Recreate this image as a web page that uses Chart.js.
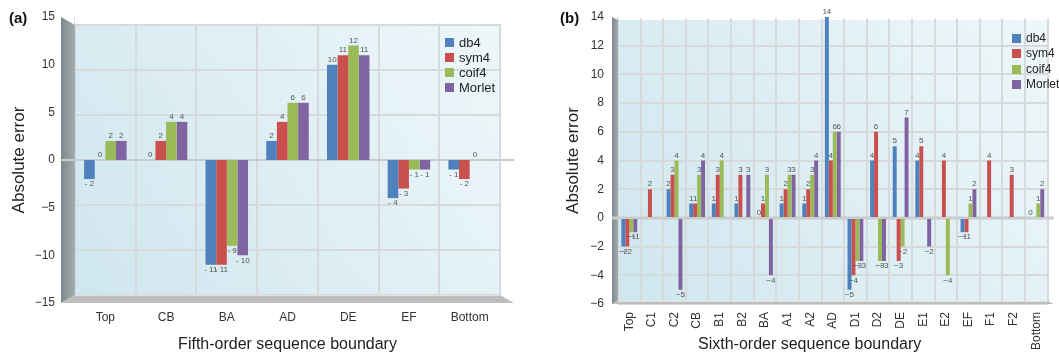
<!DOCTYPE html>
<html>
<head>
<meta charset="utf-8">
<script src="https://cdn.jsdelivr.net/npm/chart.js@4.4.1/dist/chart.umd.min.js"></script>
<style>
  body { margin: 0; background: #fff; font-family: Arial, "Liberation Sans", sans-serif; }
  #wrap { position: relative; width: 1059px; height: 354px; overflow: hidden; }
  .panel { position: absolute; top: 0; height: 354px; }
  .panel canvas { position: absolute; left: 0; top: 0; }
  .tag { position: absolute; font-weight: bold; font-size: 15px; color: #111; }
  .legend { position: absolute; color: #222; }
  .legend div { display: flex; align-items: center; white-space: nowrap; }
  .legend span.sw { display: inline-block; width: 9px; height: 9px; margin-right: 5px; }
  .xtitle { position: absolute; font-size: 16px; color: #222; white-space: nowrap; }
</style>
</head>
<body>
<div id="wrap">
  <div class="panel" style="left:0;width:530px">
    <canvas id="chartA" width="530" height="354"></canvas>
    <div class="tag" style="left:9px;top:9px">(a)</div>
    <div class="legend" id="legA" style="left:445px;top:35px;font-size:13px;line-height:15px"></div>
  </div>
  <div class="panel" style="left:530px;width:529px">
    <canvas id="chartB" width="529" height="354"></canvas>
    <div class="tag" style="left:30px;top:9px">(b)</div>
    <div class="legend" id="legB" style="left:482px;top:31px;font-size:12px;line-height:15.3px"></div>
    <div class="xtitle" id="xtB" style="left:168px;top:335px">Sixth-order sequence boundary</div>
  </div>
</div>
<script>
// ── Series ───────────────────────────────────────────
const SERIES = ["db4", "sym4", "coif4", "Morlet"];
const COLORS = ["#4f81bd", "#c9504d", "#9bbb59", "#8064a2"];

// (a) fifth-order boundaries
const CATS_A   = ["Top", "CB", "BA", "AD", "DE", "EF", "Bottom"];
const DB4_A    = [-2, 0, -11, 2, 10, -4, -1];
const SYM4_A   = [0, 2, -11, 4, 11, -3, -2];
const COIF4_A  = [2, 4, -9, 6, 12, -1, 0];
const MORLET_A = [2, 4, -10, 6, 11, -1, null];
const TICKS_A  = [-15, -10, -5, 0, 5, 10, 15];

// (b) sixth-order boundaries
const CATS_B   = ["Top", "C1", "C2", "CB", "B1", "B2", "BA", "A1", "A2", "AD", "D1", "D2", "DE", "E1", "E2", "EF", "F1", "F2", "Bottom"];
const DB4_B    = [-2, null, 2, 1, 1, 1, 0, 1, 1, 14, -5, 4, 5, 4, null, -1, null, null, 0];
const SYM4_B   = [-2, 2, 3, 1, 3, 3, 1, 2, 2, 4, -4, 6, -3, 5, 4, -1, 4, 3, null];
const COIF4_B  = [-1, null, 4, 3, 4, null, 3, 3, 3, 6, -3, -3, -2, null, -4, 1, null, null, 1];
const MORLET_B = [-1, null, -5, 4, null, 3, -4, 3, 4, 6, -3, -3, 7, -2, null, 2, null, null, 2];

const FONT = "Arial, 'Liberation Sans', sans-serif";
const minus = v => v < 0 ? "\u2212" + Math.abs(v) : String(v);

// ── Plugins ──────────────────────────────────────────
// fake 3D box: back wall, left wall, floor
const wall3d = {
  id: "wall3d",
  beforeDraw(chart, args, o) {
    const { ctx, chartArea: a } = chart;
    const g = ctx.createLinearGradient(a.left, a.bottom, a.right, a.top);
    g.addColorStop(0, "#cfe6ee");
    g.addColorStop(1, "#eef7fa");
    ctx.save();
    ctx.fillStyle = g;
    ctx.fillRect(a.left, a.top + o.inset, a.width, a.height - 2 * o.inset);
    ctx.restore();
  },
  beforeDatasetsDraw(chart, args, o) {
    const { ctx, chartArea: a } = chart;
    const d = o.depth, s = o.inset;
    ctx.save();
    // hide grid above the back wall
    ctx.fillStyle = "#fff";
    ctx.fillRect(a.left, a.top - 1, a.width + 2, s - 0.5);
    // left wall
    const lg = ctx.createLinearGradient(a.left - d, 0, a.left, 0);
    lg.addColorStop(0, "#7d898c");
    lg.addColorStop(1, "#a3adb0");
    ctx.fillStyle = lg;
    ctx.beginPath();
    ctx.moveTo(a.left - d, a.top);
    ctx.lineTo(a.left, a.top + s);
    ctx.lineTo(a.left, a.bottom - s);
    ctx.lineTo(a.left - d, a.bottom);
    ctx.closePath();
    ctx.fill();
    // floor
    ctx.fillStyle = "#bdbdbd";
    ctx.beginPath();
    ctx.moveTo(a.left - d, a.bottom);
    ctx.lineTo(a.left, a.bottom - s);
    ctx.lineTo(a.right, a.bottom - s);
    ctx.lineTo(a.right + d, a.bottom);
    ctx.closePath();
    ctx.fill();
    ctx.strokeStyle = "#e2e2e2";
    ctx.lineWidth = 1;
    ctx.beginPath();
    ctx.moveTo(a.left, a.bottom - s + 0.5);
    ctx.lineTo(a.right, a.bottom - s + 0.5);
    ctx.stroke();
    // front zero line
    const y0 = chart.scales.y.getPixelForValue(0);
    ctx.strokeStyle = "#c8cccd";
    ctx.lineWidth = o.zeroWidth;
    ctx.beginPath();
    ctx.moveTo(a.left - d, y0);
    ctx.lineTo(a.right + d, y0);
    ctx.stroke();
    ctx.restore();
  }
};

// small numbers at the bar ends
const valueLabels = {
  id: "valueLabels",
  afterDatasetsDraw(chart, args, o) {
    const ctx = chart.ctx;
    ctx.save();
    ctx.font = o.font;
    ctx.fillStyle = "#555";
    ctx.textAlign = "center";
    chart.data.datasets.forEach((ds, i) => {
      chart.getDatasetMeta(i).data.forEach((bar, j) => {
        const v = ds.data[j];
        if (v === null || v === undefined) return;
        ctx.textBaseline = v < 0 ? "top" : "bottom";
        ctx.fillText(o.format(v), bar.x, bar.y + (v < 0 ? 1 : -1));
      });
    });
    ctx.restore();
  }
};

function datasets(rows) {
  return rows.map((data, i) => ({
    label: SERIES[i],
    data,
    backgroundColor: COLORS[i],
    borderWidth: 0,
    categoryPercentage: 0.7,
    barPercentage: 1.0,
  }));
}

function legend(id) {
  document.getElementById(id).innerHTML = SERIES.map((s, i) =>
    `<div><span class="sw" style="background:${COLORS[i]}"></span>${s}</div>`).join("");
}

// ── Chart (a) ────────────────────────────────────────
new Chart(document.getElementById("chartA"), {
  type: "bar",
  data: { labels: CATS_A, datasets: datasets([DB4_A, SYM4_A, COIF4_A, MORLET_A]) },
  plugins: [wall3d, valueLabels],
  options: {
    responsive: false,
    animation: false,
    layout: { padding: { top: 17, right: 30, left: 0, bottom: 0 } },
    plugins: {
      legend: { display: false },
      tooltip: { enabled: false },
      wall3d: { depth: 14, inset: 8, zeroWidth: 2 },
      valueLabels: { font: `8px ${FONT}`, format: v => v < 0 ? "- " + Math.abs(v) : String(v) },
    },
    scales: {
      x: {
        grid: { color: "#d6dadb", lineWidth: 2, drawTicks: false },
        border: { display: false },
        ticks: { color: "#333", font: { family: FONT, size: 12 }, padding: 7 },
        title: { display: true, text: "Fifth-order sequence boundary", color: "#222",
                 font: { family: FONT, size: 16 }, padding: 0 },
        afterFit: s => { s.height = 51; },
      },
      y: {
        min: -15, max: 15,
        afterBuildTicks: ax => { ax.ticks = TICKS_A.map(v => ({ value: v })); },
        grid: { display: false, drawTicks: true, tickLength: 20 },
        border: { display: false },
        ticks: { color: "#333", font: { family: FONT, size: 12 }, padding: 0, callback: minus },
        title: { display: true, text: "Absolute error", color: "#222",
                 font: { family: FONT, size: 17 }, padding: { top: 9 } },
        afterFit: s => { s.width = 75; },
      },
      // back-wall grid (drawn slightly compressed for the 3D look)
      y2: {
        position: "right",
        min: -15.9, max: 15.9,
        afterBuildTicks: ax => { ax.ticks = TICKS_A.map(v => ({ value: v })); },
        grid: { color: "#d6dadb", lineWidth: 2, drawTicks: false },
        border: { display: false },
        ticks: { display: false },
        afterFit: s => { s.width = 0; },
      },
    },
  },
});

// ── Chart (b) ────────────────────────────────────────
new Chart(document.getElementById("chartB"), {
  type: "bar",
  data: { labels: CATS_B, datasets: datasets([DB4_B, SYM4_B, COIF4_B, MORLET_B]) },
  plugins: [wall3d, valueLabels],
  options: {
    responsive: false,
    animation: false,
    layout: { padding: { top: 17, right: 11, left: 0, bottom: 0 } },
    plugins: {
      legend: { display: false },
      tooltip: { enabled: false },
      wall3d: { depth: 6, inset: 3, zeroWidth: 3 },
      valueLabels: { font: `8px ${FONT}`, format: minus },
    },
    scales: {
      x: {
        grid: { color: "#d6dadb", lineWidth: 2, drawTicks: false },
        border: { display: false },
        ticks: { color: "#333", font: { family: FONT, size: 12 }, padding: 8,
                 minRotation: 90, maxRotation: 90, autoSkip: false },
        afterFit: s => { s.height = 50; },
      },
      y: {
        min: -6, max: 14,
        ticks: { stepSize: 2, color: "#333", font: { family: FONT, size: 12 }, padding: 0, callback: minus },
        grid: { color: "#d6dadb", lineWidth: 2, drawTicks: true, tickLength: 14, tickColor: "rgba(0,0,0,0)" },
        border: { display: false },
        title: { display: true, text: "Absolute error", color: "#222",
                 font: { family: FONT, size: 17 }, padding: { top: 33 } },
        afterFit: s => { s.width = 88; },
      },
    },
  },
});

legend("legA");
legend("legB");
</script>
</body>
</html>
